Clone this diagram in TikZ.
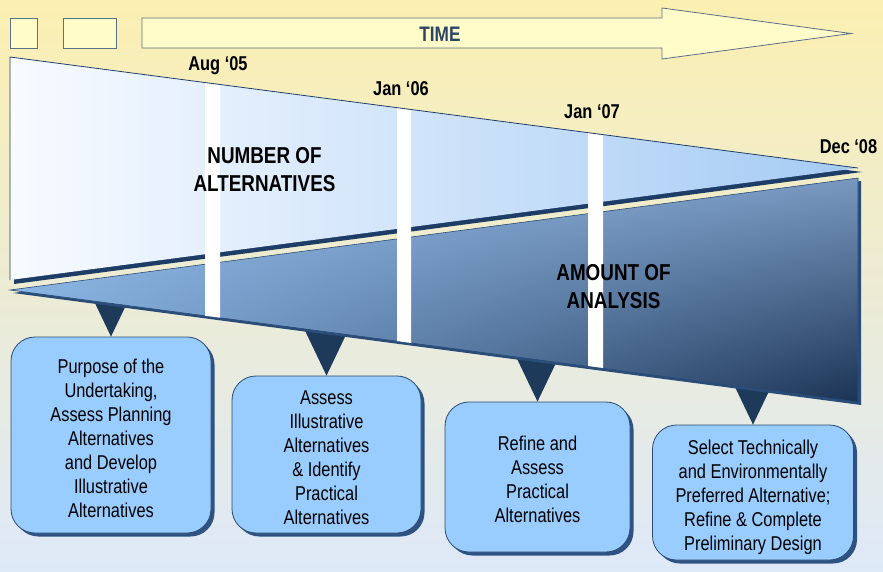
\documentclass[tikz,border=0pt]{standalone}
\usepackage{fontspec}
\setmainfont{Liberation Sans}[FakeStretch=0.82]
\usetikzlibrary{calc,shadows,shadings}
\definecolor{bgtop}{HTML}{FBEFB1}
\definecolor{bgmid}{HTML}{EFF0DC}
\definecolor{bgbot}{HTML}{DEE9F8}
\definecolor{cream}{HTML}{FFFCC9}
\definecolor{creamline}{HTML}{5B6F86}
\definecolor{timecol}{HTML}{2B4565}
\definecolor{trileft}{HTML}{F8FBFF}
\definecolor{triright}{HTML}{A5CBF4}
\definecolor{trishadow}{HTML}{1D3D66}
\definecolor{triline}{HTML}{1F3E68}
\definecolor{anaUL}{HTML}{95C0EE}
\definecolor{anaUR}{HTML}{7898C0}
\definecolor{anaLL}{HTML}{80AAD9}
\definecolor{anaLR}{HTML}{1B3354}
\definecolor{anashadow}{HTML}{2A4C78}
\definecolor{pointercol}{HTML}{1E3A5A}
\definecolor{boxfill}{HTML}{99CCFF}
\definecolor{boxline}{HTML}{2C4A6E}
\definecolor{boxshadow}{HTML}{2E5283}
\newcommand{\topstrut}[1]{\rule{0pt}{#1}}
\tikzset{
  creambox/.style={draw=creamline, line width=0.8pt, fill=cream},
  datelbl/.style={anchor=base, inner sep=0pt, font=\bfseries\fontsize{20}{24}\selectfont},
  biglbl/.style={align=center, inner sep=0pt, font=\bfseries\fontsize{23}{28}\selectfont},
  stagebox/.style={draw=boxline, line width=0.8pt, fill=boxfill, rounded corners=24pt,
    align=center, inner sep=0pt, font=\fontsize{20}{24}\selectfont,
    drop shadow={shadow xshift=3.5pt, shadow yshift=-3.5pt, fill=boxshadow, opacity=1}},
  pointer/.style={fill=pointercol}
}
\begin{document}
\begin{tikzpicture}[x=1pt,y=-1pt]
\useasboundingbox (0,0) rectangle (883,571);
% background
\shade[top color=bgtop, middle color=bgmid, bottom color=bgbot] (0,0) rectangle (883,571);
% small boxes and time arrow
\draw[creambox] (10,18) rectangle (37,48);
\draw[creambox] (63,18) rectangle (116,48);
\draw[creambox] (142,18) -- (662,18) -- (662,8) -- (851,33.5) -- (662,59) -- (662,48) -- (142,48) -- cycle;
\node[anchor=base, inner sep=0pt, text=timecol, font=\bfseries\fontsize{21}{25}\selectfont] (time) at (440,41.7) {TIME};
% stage boxes
\node[stagebox, minimum width=200pt, minimum height=196pt] (b1) at (111,435) {\topstrut{21pt}Purpose of the\\Undertaking,\\Assess Planning\\Alternatives\\and Develop\\Illustrative\\Alternatives};
\node[stagebox, minimum width=189pt, minimum height=157pt] (b2) at (326.5,454.5) {\topstrut{21pt}Assess\\Illustrative\\Alternatives\\\& Identify\\Practical\\Alternatives};
\node[stagebox, minimum width=185pt, minimum height=150pt] (b3) at (537.5,477) {\topstrut{20pt}Refine and\\Assess\\Practical\\Alternatives};
\node[stagebox, minimum width=201pt, minimum height=135pt] (b4) at (753,492.5) {\topstrut{25pt}Select Technically\\and Environmentally\\Preferred Alternative;\\Refine \& Complete\\Preliminary Design};
% pointers
\foreach \b in {b1,b2,b3,b4}{
  \fill[pointer] ($(\b.north)+(-22,-46)$) -- ($(\b.north)+(22,-46)$) -- (\b.north) -- cycle;
}
% number of alternatives (upper wedge)
\fill[trishadow] (14,61) -- (862,172) -- (14,284) -- cycle;
\shade[left color=trileft, right color=triright] (10,57) -- (858,168) -- (10,280) -- cycle;
% amount of analysis (lower wedge)
\fill[anashadow] (13,293) -- (861,181) -- (861,405) -- cycle;
\shade[upper left=anaUL, upper right=anaUR, lower left=anaLL, lower right=anaLR] (10,290) -- (858,178) -- (858,402) -- cycle;
\draw[anashadow, line width=0.6pt] (10,290) -- (858,178) -- (858,402) -- cycle;
% milestone bars
\fill[white] (205,83) -- (220,85) -- (220,317.7) -- (205,315.7) -- cycle;
\fill[white] (397,108) -- (411,110) -- (411,343) -- (397,341) -- cycle;
\fill[white] (588,133) -- (603,135) -- (603,368) -- (588,366) -- cycle;
\draw[triline, line width=0.8pt] (10,280) -- (10,57) -- (858,168);
% labels
\node[datelbl] (d1) at (218,70) {Aug ‘05};
\node[datelbl] (d2) at (401,95.5) {Jan ‘06};
\node[datelbl] (d3) at (592,118.5) {Jan ‘07};
\node[datelbl] (d4) at (848.5,153) {Dec ‘08};
\node[biglbl] (numalt) at (264.5,169.5) {NUMBER OF\\ALTERNATIVES};
\node[biglbl] (amount) at (613.5,286.5) {AMOUNT OF\\ANALYSIS};
\end{tikzpicture}
\end{document}
